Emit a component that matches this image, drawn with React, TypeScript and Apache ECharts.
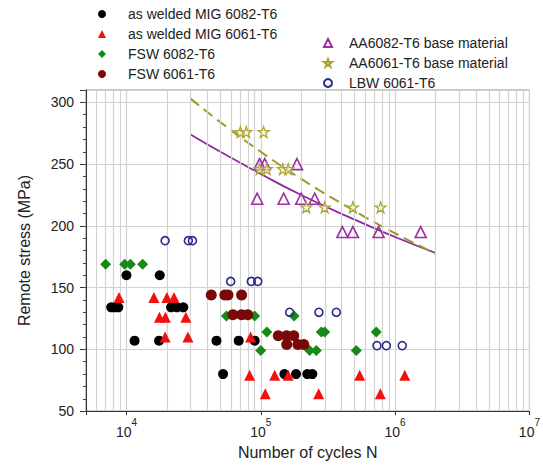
import React, { useEffect, useRef } from "react";
import * as echarts from "echarts";

// ---- data (N cycles, remote stress MPa) ----
const migWeld6082: number[][] = [
  [7700, 134], [8200, 134], [8700, 134], [10000, 160], [11500, 107], [17500, 107],
  [17700, 160], [21500, 134], [23800, 134], [26500, 134], [46800, 107], [52400, 80],
  [68500, 107], [90200, 107], [150000, 80], [183000, 80], [222000, 80], [242000, 80],
];
const migWeld6061: number[][] = [
  [8800, 142], [16000, 142], [20000, 142], [22600, 142], [17600, 126], [19500, 126],
  [27700, 126], [19400, 110], [28700, 110], [84000, 110], [82600, 79], [127000, 79],
  [160000, 79], [108000, 64], [270000, 64], [545000, 79], [776000, 64], [1180000, 79],
];
const fsw6082: number[][] = [
  [7000, 169], [9700, 169], [10700, 169], [13200, 169], [55500, 127], [90000, 127],
  [100000, 99], [111000, 114], [177000, 127], [231000, 99], [259000, 99], [282000, 114],
  [299000, 114], [514000, 99], [724000, 114],
];
const fsw6061: number[][] = [
  [42800, 144], [54000, 144], [57000, 144], [72000, 144], [62000, 128], [72000, 128],
  [80000, 128], [135000, 111], [156000, 111], [176000, 111], [156000, 104], [189000, 104],
  [209000, 104],
];
const base6082: number[][] = [
  [98000, 250], [107000, 250], [186000, 250], [94000, 222], [148000, 222], [200000, 222],
  [252000, 222], [405000, 195], [485000, 195], [754000, 195], [1550000, 195],
];
const base6061: number[][] = [
  [70500, 276], [78000, 276], [105000, 276], [98000, 246], [111000, 246], [146000, 246],
  [160000, 246], [218000, 215], [299000, 215], [485000, 215], [780000, 215],
];
const lbw6061: number[][] = [
  [19400, 188], [28900, 188], [31000, 188], [59700, 155], [85000, 155], [95000, 155],
  [164000, 130], [271000, 130], [365000, 130], [733000, 103], [861000, 103], [1130000, 103],
];
// fitted curves
const fit6082: number[][] = [
  [30000, 274], [50000, 260], [100000, 242], [200000, 225], [500000, 205], [1000000, 191], [2000000, 178],
];
const fit6061: number[][] = [
  [30000, 303], [50000, 284], [100000, 260], [200000, 238], [500000, 212], [1000000, 194], [2000000, 177.5],
];
// minor grid positions on the log axis
const minorGridN: number[] = [
  6000, 7000, 8000, 9000,
  20000, 30000, 40000, 50000, 60000, 70000, 80000, 90000,
  200000, 300000, 400000, 500000, 600000, 700000, 800000, 900000,
  2000000, 3000000, 4000000, 5000000, 6000000, 7000000, 8000000, 9000000,
];
const legendLeft = ["as welded MIG 6082-T6", "as welded MIG 6061-T6", "FSW 6082-T6", "FSW 6061-T6"];
const legendRight = ["AA6082-T6 base material", "AA6061-T6 base material", "LBW 6061-T6"];

const FONT = "'Liberation Sans', Arial, sans-serif";
const STAR = "path://M50,2 L61,36 L97,36 L68,57 L79,92 L50,71 L21,92 L32,57 L3,36 L39,36 Z";
const GRID = "#d2d2d2";

export default function App() {
  const ref = useRef<HTMLDivElement>(null);
  useEffect(() => {
    const chart = echarts.init(ref.current as HTMLDivElement, null, { renderer: "svg" });
    const legendCommon = {
      orient: "vertical",
      padding: 0,
      itemWidth: 8,
      itemHeight: 8,
      itemGap: 6,
    };
    const option: any = {
      animation: false,
      backgroundColor: "#fff",
      textStyle: { fontFamily: FONT },
      legend: [
        {
          ...legendCommon, data: legendLeft, left: 98, top: 7,
          textStyle: { fontSize: 14, color: "#222", fontFamily: FONT, lineHeight: 14, padding: [0, 0, 0, 17] },
        },
        {
          ...legendCommon, data: legendRight, left: 323, top: 36,
          textStyle: { fontSize: 14, color: "#222", fontFamily: FONT, lineHeight: 14, padding: [0, 0, 0, 12] },
        },
      ],
      grid: {
        left: 86, right: 13, top: 90, bottom: 53,
        show: true, borderColor: "#8a8a8a", borderWidth: 1, backgroundColor: "transparent",
      },
      xAxis: {
        type: "log",
        logBase: 10,
        min: 5000,
        max: 10000000,
        name: "Number of cycles N",
        nameLocation: "middle",
        nameGap: 30,
        nameTextStyle: { fontSize: 16, color: "#222", fontFamily: FONT },
        axisLine: { show: true, lineStyle: { color: "#333", width: 1 } },
        axisTick: { show: true, length: 4, lineStyle: { color: "#333" } },
        splitLine: { show: true, lineStyle: { color: GRID, width: 1.2 } },
        axisLabel: {
          margin: 6,
          color: "#222",
          formatter: (v: number) => {
            const l = Math.log10(v);
            const e = Math.round(l);
            if (Math.abs(l - e) > 1e-6) return "";
            return `{b|10}{s|${e}}`;
          },
          rich: {
            b: { fontSize: 14, lineHeight: 22, verticalAlign: "bottom", color: "#222", fontFamily: FONT },
            s: { fontSize: 10, lineHeight: 11, verticalAlign: "top", color: "#222", fontFamily: FONT },
          },
        },
      },
      yAxis: [
        {
          type: "value",
          min: 50,
          max: 310,
          interval: 50,
          name: "Remote stress (MPa)",
          nameLocation: "middle",
          nameGap: 54,
          nameTextStyle: { fontSize: 16, color: "#222", fontFamily: FONT },
          axisLine: { show: true, lineStyle: { color: "#333", width: 1 } },
          axisTick: { show: true, length: 6, lineStyle: { color: "#333" } },
          splitLine: { show: true, lineStyle: { color: GRID, width: 1.2 } },
          axisLabel: {
            margin: 12,
            fontSize: 14,
            color: "#222",
            fontFamily: FONT,
            formatter: (v: number) => (v % 50 === 0 ? String(v) : ""),
          },
        },
        {
          type: "value",
          min: 50,
          max: 310,
          interval: 10,
          position: "left",
          axisLine: { show: false },
          axisTick: { show: true, length: 3, lineStyle: { color: "#444" } },
          splitLine: { show: false },
          axisLabel: { show: false },
        },
      ],
      series: [
        {
          name: "minor grid",
          type: "line",
          data: [],
          silent: true,
          z: 1,
          markLine: {
            silent: true,
            symbol: ["none", "none"],
            label: { show: false },
            lineStyle: { color: GRID, width: 1.2, type: "solid" },
            data: minorGridN.map((v) => ({ xAxis: v })),
          },
        },
        {
          name: "fit 6082",
          type: "line",
          data: fit6082,
          smooth: true,
          symbol: "none",
          z: 3,
          lineStyle: { color: "#8f2a9c", width: 1.8 },
        },
        {
          name: "fit 6061",
          type: "line",
          data: fit6061,
          smooth: true,
          symbol: "none",
          z: 3,
          lineStyle: { color: "#9c9a2c", width: 2, type: [11, 6] },
        },
        {
          name: legendLeft[0], type: "scatter", data: migWeld6082, symbol: "circle", symbolSize: 10, z: 5,
          itemStyle: { color: "#000", opacity: 1 },
        },
        {
          name: legendLeft[1], type: "scatter", data: migWeld6061, symbol: "triangle", symbolSize: 11, z: 5,
          itemStyle: { color: "#f01010", opacity: 1 },
        },
        {
          name: legendLeft[2], type: "scatter", data: fsw6082, symbol: "diamond", symbolSize: 11, z: 5,
          itemStyle: { color: "#168a16", opacity: 1 },
        },
        {
          name: legendLeft[3], type: "scatter", data: fsw6061, symbol: "circle", symbolSize: 11, z: 5,
          itemStyle: { color: "#7a0808", opacity: 1 },
        },
        {
          name: legendRight[0], type: "scatter", data: base6082, symbol: "triangle", symbolSize: 11, z: 5,
          itemStyle: { color: "rgba(255,255,255,0)", borderColor: "#9b2fa3", borderWidth: 1.6, opacity: 1 },
        },
        {
          name: legendRight[1], type: "scatter", data: base6061, symbol: STAR, symbolSize: 11, z: 5,
          itemStyle: { color: "rgba(250,250,200,0.6)", borderColor: "#aaa432", borderWidth: 1.2, opacity: 1 },
        },
        {
          name: legendRight[2], type: "scatter", data: lbw6061, symbol: "circle", symbolSize: 8, z: 5,
          itemStyle: { color: "rgba(255,255,255,0)", borderColor: "#2b2b8c", borderWidth: 1.6, opacity: 1 },
        },
      ],
    };
    chart.setOption(option);
    return () => chart.dispose();
  }, []);
  return <div ref={ref} style={{ position: "fixed", left: 0, top: 0, width: 543, height: 465 }} />;
}
